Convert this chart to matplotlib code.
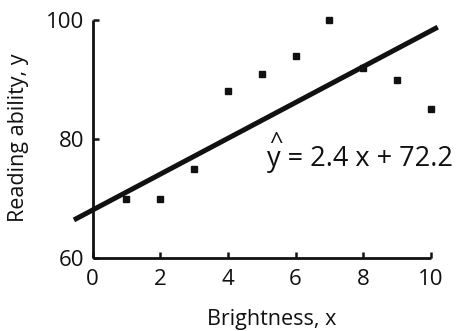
import matplotlib
matplotlib.use("Agg")
import matplotlib.pyplot as plt

# ── Data ──────────────────────────────────────────────────────────────────────
brightness = [1, 2, 3, 4, 5, 6, 7, 8, 9, 10]
reading    = [70, 70, 75, 88, 91, 94, 100, 92, 90, 85]

# fitted line as drawn in the figure (endpoints)
fit_x = [-0.55, 10.2]
fit_y = [66.4, 98.8]

x_ticks = [0, 2, 4, 6, 8, 10]
y_ticks = [60, 80, 100]

plt.rcParams["font.family"] = ["Open Sans", "DejaVu Sans"]

fig = plt.figure(figsize=(4.6, 3.31), dpi=100, facecolor="white")
ax = fig.add_axes([0.157, 0.2205, 0.802, 0.737])

ax.plot(fit_x, fit_y, color="#111111", lw=3.6, solid_capstyle="butt",
        clip_on=False, zorder=2)
ax.plot(brightness, reading, ls="none", marker="s", ms=4.6,
        color="#111111", clip_on=False, zorder=3)

ax.set_xlim(-0.6, 10.3)
ax.set_ylim(60, 101)
ax.set_xticks(x_ticks)
ax.set_yticks(y_ticks)

for side in ("top", "right"):
    ax.spines[side].set_visible(False)
ax.spines["left"].set_bounds(60, 100)
ax.spines["bottom"].set_bounds(0, 10)
ax.spines["left"].set_position(("data", 0))
for side in ("left", "bottom"):
    ax.spines[side].set_linewidth(2.0)
    ax.spines[side].set_color("#111111")
    ax.spines[side].set_capstyle("butt")

ax.tick_params(direction="in", length=4, width=1.8, colors="#111111",
               labelsize=16)
ax.tick_params(axis="x", pad=8)
ax.tick_params(axis="y", pad=6)

# equation with hat on y
ax.text(5.16, 75.5, "y = 2.4 x + 72.2", fontsize=19.5, color="#111111",
        ha="left", va="baseline")
ax.text(5.42, 78.3, "^", fontsize=17, color="#111111",
        ha="center", va="baseline")

fig.text(0.04, 0.585, "Reading ability, y", rotation=90, fontsize=15.5,
         ha="center", va="center", color="#111111")
fig.text(0.59, 0.035, "Brightness, x", fontsize=15.5,
         ha="center", va="center", color="#111111")

fig.savefig("out.png", dpi=100, facecolor="white")
